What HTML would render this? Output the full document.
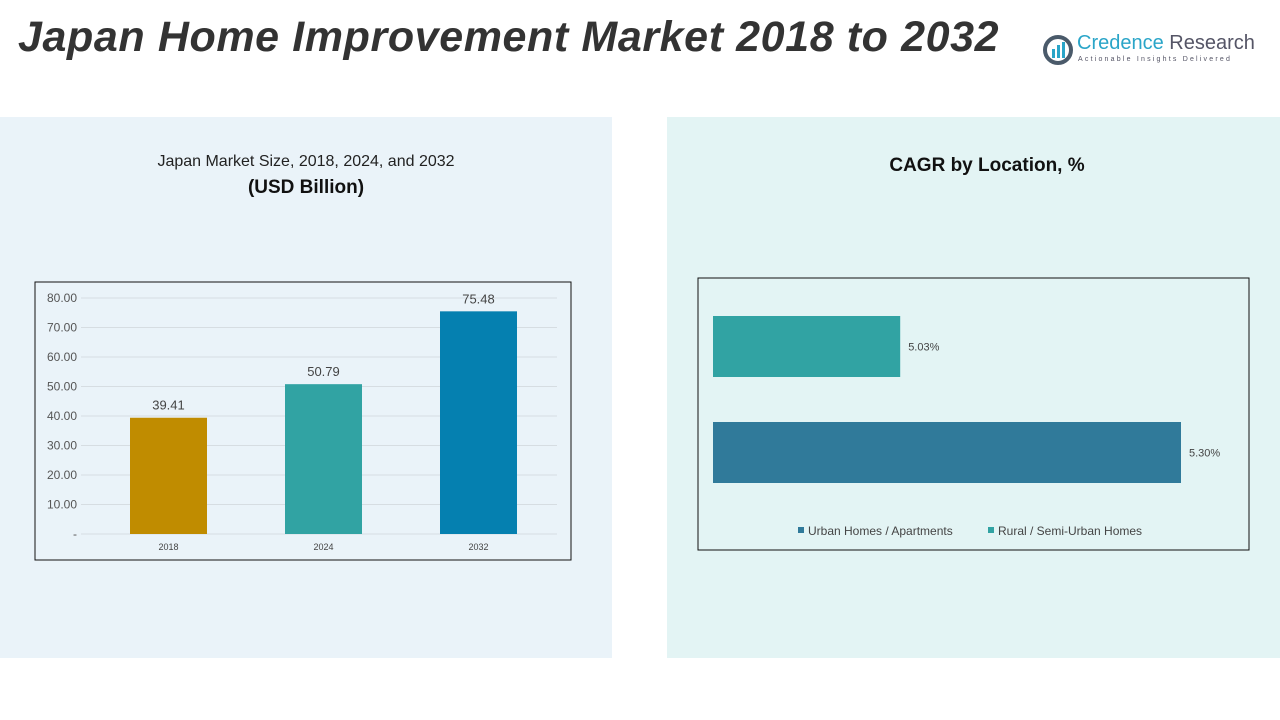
<!DOCTYPE html>
<html><head><meta charset="utf-8"><style>
body{margin:0;width:1280px;height:720px;background:#fff;font-family:"Liberation Sans",sans-serif;position:relative;overflow:hidden}
.abs{position:absolute}
</style></head><body>
<div class="abs" style="left:18px;top:13px;font-size:43px;font-weight:bold;font-style:italic;color:#333;letter-spacing:0.6px;white-space:nowrap">Japan Home Improvement Market 2018 to 2032</div>
<div class="abs" style="left:1042px;top:32px;width:210px;height:36px">
 <svg width="32" height="32" style="position:absolute;left:0;top:2px"><circle cx="16" cy="16" r="13" fill="none" stroke="#4a5a6a" stroke-width="4"/><rect x="10" y="15" width="3" height="9" fill="#2aa5c8"/><rect x="15" y="11" width="3" height="13" fill="#2aa5c8"/><rect x="20" y="8" width="3" height="16" fill="#2aa5c8"/></svg>
 <div style="position:absolute;left:35px;top:0;font-size:20px;color:#2aa5c8;white-space:nowrap">Credence <span style="color:#556">Research</span></div>
 <div style="position:absolute;left:36px;top:24px;font-size:7px;letter-spacing:2.2px;color:#556;white-space:nowrap">Actionable Insights Delivered</div>
</div>
<div class="abs" style="left:0;top:117px;width:612px;height:541px;background:#eaf3f9"></div>
<div class="abs" style="left:667px;top:117px;width:613px;height:541px;background:#e3f4f4"></div>
<div class="abs" style="left:0;top:153px;width:612px;text-align:center;font-size:16px;color:#222">Japan Market Size, 2018, 2024, and 2032</div>
<div class="abs" style="left:0;top:177px;width:612px;text-align:center;font-size:19px;font-weight:bold;color:#111">(USD Billion)</div>
<div class="abs" style="left:667px;top:155px;width:640px;text-align:center;font-size:19px;font-weight:bold;color:#111">CAGR by Location, %</div>
<svg class="abs" style="left:0;top:0" width="1280" height="720" id="svg"></svg>
<script>
const years=["2018","2024","2032"];
const sizes=[39.41,50.79,75.48];
const yTicks=[0,10,20,30,40,50,60,70,80];
const yTickLabels=["-","10.00","20.00","30.00","40.00","50.00","60.00","70.00","80.00"];
const barColors=["#c08c00","#31a3a3","#0580b0"];
const locations=["Rural / Semi-Urban Homes","Urban Homes / Apartments"];
const cagr=[5.03,5.30];
const cagrLabels=["5.03%","5.30%"];
const locColors=["#31a3a3","#307a9a"];
const legendOrder=[1,0];

const svg=document.getElementById('svg');const NS="http://www.w3.org/2000/svg";
function mk(t,a,txt){const e=document.createElementNS(NS,t);for(const k in a)e.setAttribute(k,a[k]);if(txt!==undefined)e.textContent=txt;svg.appendChild(e);return e;}
let e=mk('rect',{x:35,y:282,width:536,height:278,fill:'none',stroke:'#111','stroke-width':1});

const y0=534,y1=298,px0=91,px1=556;
const ys=v=>y0-(v-0)/(80-0)*(y0-y1);
const bw=(px1-px0)/years.length;
yTicks.forEach((t,i)=>{
 e=mk('line',{x1:81,x2:557,y1:ys(t),y2:ys(t),stroke:'#d6dde2','stroke-width':1});
 
 e=mk('text',{x:77,y:ys(t)+4,'text-anchor':'end','font-size':12,fill:'#555'},yTickLabels[i]);
 
});
years.forEach((y,i)=>{
 const cx=px0+bw*(i+0.5),w=77;
 e=mk('rect',{x:cx-w/2,y:ys(sizes[i]),width:w,height:y0-ys(sizes[i]),fill:barColors[i]});
 
 e=mk('text',{x:cx,y:ys(sizes[i])-8,'text-anchor':'middle','font-size':13,fill:'#444'},sizes[i].toFixed(2));
 
 e=mk('text',{x:cx,y:550,'text-anchor':'middle','font-size':9,fill:'#444'},y);
 
});
e=mk('rect',{x:698,y:278,width:551,height:272,fill:'none',stroke:'#111','stroke-width':1});

const xmin=4.85,xmax=5.35,rx0=713,rx1=1233;
const xs=v=>rx0+(v-xmin)/(xmax-xmin)*(rx1-rx0);
const bandTop=300,band=106,bh=61;
locations.forEach((l,i)=>{
 const y=bandTop+band*i+16;
 e=mk('rect',{x:rx0,y:y,width:xs(cagr[i])-rx0,height:bh,fill:locColors[i]});
 
 e=mk('text',{x:xs(cagr[i])+8,y:y+bh/2+4,'font-size':11,fill:'#444'},cagrLabels[i]);
 
});
let lx=798;
legendOrder.forEach(i=>{
 e=mk('rect',{x:lx,y:527,width:6,height:6,fill:locColors[i]});
 
 e=mk('text',{x:lx+10,y:535,'font-size':12,fill:'#444'},locations[i]);
 
 lx+=190;
});
</script>
</body></html>
